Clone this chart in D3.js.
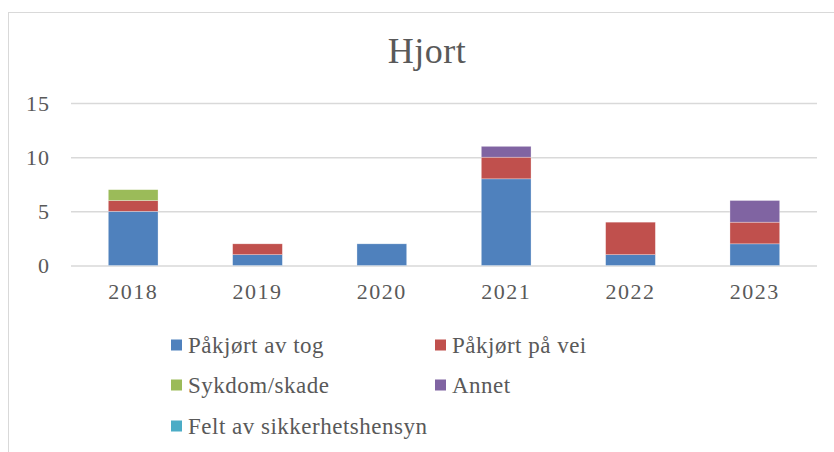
<!DOCTYPE html>
<html>
<head>
<meta charset="utf-8">
<script src="https://cdn.jsdelivr.net/npm/d3@7"></script>
<style>
  body { margin: 0; background: #fff; }
  svg text { font-family: "Liberation Serif", serif; fill: #595959; }
</style>
</head>
<body>
<div id="chart"></div>
<script>
const years = ['2018', '2019', '2020', '2021', '2022', '2023'];
const seriesNames = ['Påkjørt av tog', 'Påkjørt på vei', 'Sykdom/skade', 'Annet', 'Felt av sikkerhetshensyn'];
const seriesColors = ['#4f81bd', '#c0504d', '#9bbb59', '#8064a2', '#4bacc6'];
const paakjortTog = [5, 1, 2, 8, 1, 2];
const paakjortVei = [1, 1, 0, 2, 3, 2];
const sykdom = [1, 0, 0, 0, 0, 0];
const annet = [0, 0, 0, 1, 0, 2];
const feltSikkerhet = [0, 0, 0, 0, 0, 0];
const yTicks = [0, 5, 10, 15];

let width = 834;
let height = 452;
let plot = {left: 71, right: 817, top: 103, bottom: 265.5};

let svg = d3.select('#chart').append('svg')
  .attr('width', width)
  .attr('height', height);

// chart frame
svg.append('rect')
  .attr('x', 8.5).attr('y', 12.5)
  .attr('width', width).attr('height', height)
  .attr('fill', 'none')
  .attr('stroke', '#d9d9d9')
  .attr('stroke-width', 1);

svg.append('text')
  .attr('x', 427).attr('y', 63)
  .attr('text-anchor', 'middle')
  .style('font-size', '36px')
  .style('letter-spacing', '0.5px')
  .text('Hjort');

let table = years.map((y, i) => ({
  year: y,
  [seriesNames[0]]: paakjortTog[i],
  [seriesNames[1]]: paakjortVei[i],
  [seriesNames[2]]: sykdom[i],
  [seriesNames[3]]: annet[i],
  [seriesNames[4]]: feltSikkerhet[i]
}));
let stacked = d3.stack().keys(seriesNames)(table);

let xScale = d3.scaleBand()
  .domain(years)
  .range([plot.left, plot.right])
  .paddingInner(0.6)
  .paddingOuter(0.3);
let yScale = d3.scaleLinear()
  .domain([0, 15])
  .range([plot.bottom, plot.top]);

// gridlines
let yAxis = d3.axisLeft(yScale)
  .tickValues(yTicks)
  .tickSize(-(plot.right - plot.left))
  .tickPadding(21);
let yAxisInstance = svg.append('g')
  .attr('transform', 'translate(' + plot.left + ',0)')
  .call(yAxis);
yAxisInstance.select('.domain').remove();
yAxisInstance.selectAll('line').attr('stroke', '#d9d9d9').attr('stroke-width', 1.5);
yAxisInstance.selectAll('text').style('font-size', '22px').style('letter-spacing', '1px').attr('fill', '#595959');

svg.append('g')
  .selectAll('g')
  .data(stacked)
  .join('g')
  .attr('fill', (d, i) => seriesColors[i])
  .selectAll('rect')
  .data(d => d)
  .join('rect')
  .attr('x', d => xScale(d.data.year))
  .attr('width', xScale.bandwidth())
  .attr('y', d => yScale(d[1]))
  .attr('height', d => yScale(d[0]) - yScale(d[1]))
  .attr('stroke', d => (d[1] - d[0]) > 0 ? 'rgba(255,255,255,0.5)' : 'none')
  .attr('stroke-width', 0.6);

let xAxis = d3.axisBottom(xScale).tickSize(0).tickPadding(18);
let xAxisInstance = svg.append('g')
  .attr('transform', 'translate(0,' + plot.bottom + ')')
  .call(xAxis);
xAxisInstance.select('.domain').remove();
xAxisInstance.selectAll('text').style('font-size', '22px').style('letter-spacing', '1.5px').attr('fill', '#595959');

// legend
let legendCols = [171, 435];
let legendRows = [345, 385, 426];
let legend = svg.append('g')
  .selectAll('g')
  .data(seriesNames)
  .join('g')
  .attr('transform', (d, i) => 'translate(' + legendCols[i % 2] + ',' + legendRows[Math.floor(i / 2)] + ')');
legend.append('rect')
  .attr('x', 0).attr('y', -5.5)
  .attr('width', 11).attr('height', 11)
  .attr('fill', (d, i) => seriesColors[i]);
legend.append('text')
  .attr('x', 17).attr('y', 7.5)
  .style('font-size', '23px')
  .style('letter-spacing', '0.5px')
  .text(d => d);
</script>
</body>
</html>
